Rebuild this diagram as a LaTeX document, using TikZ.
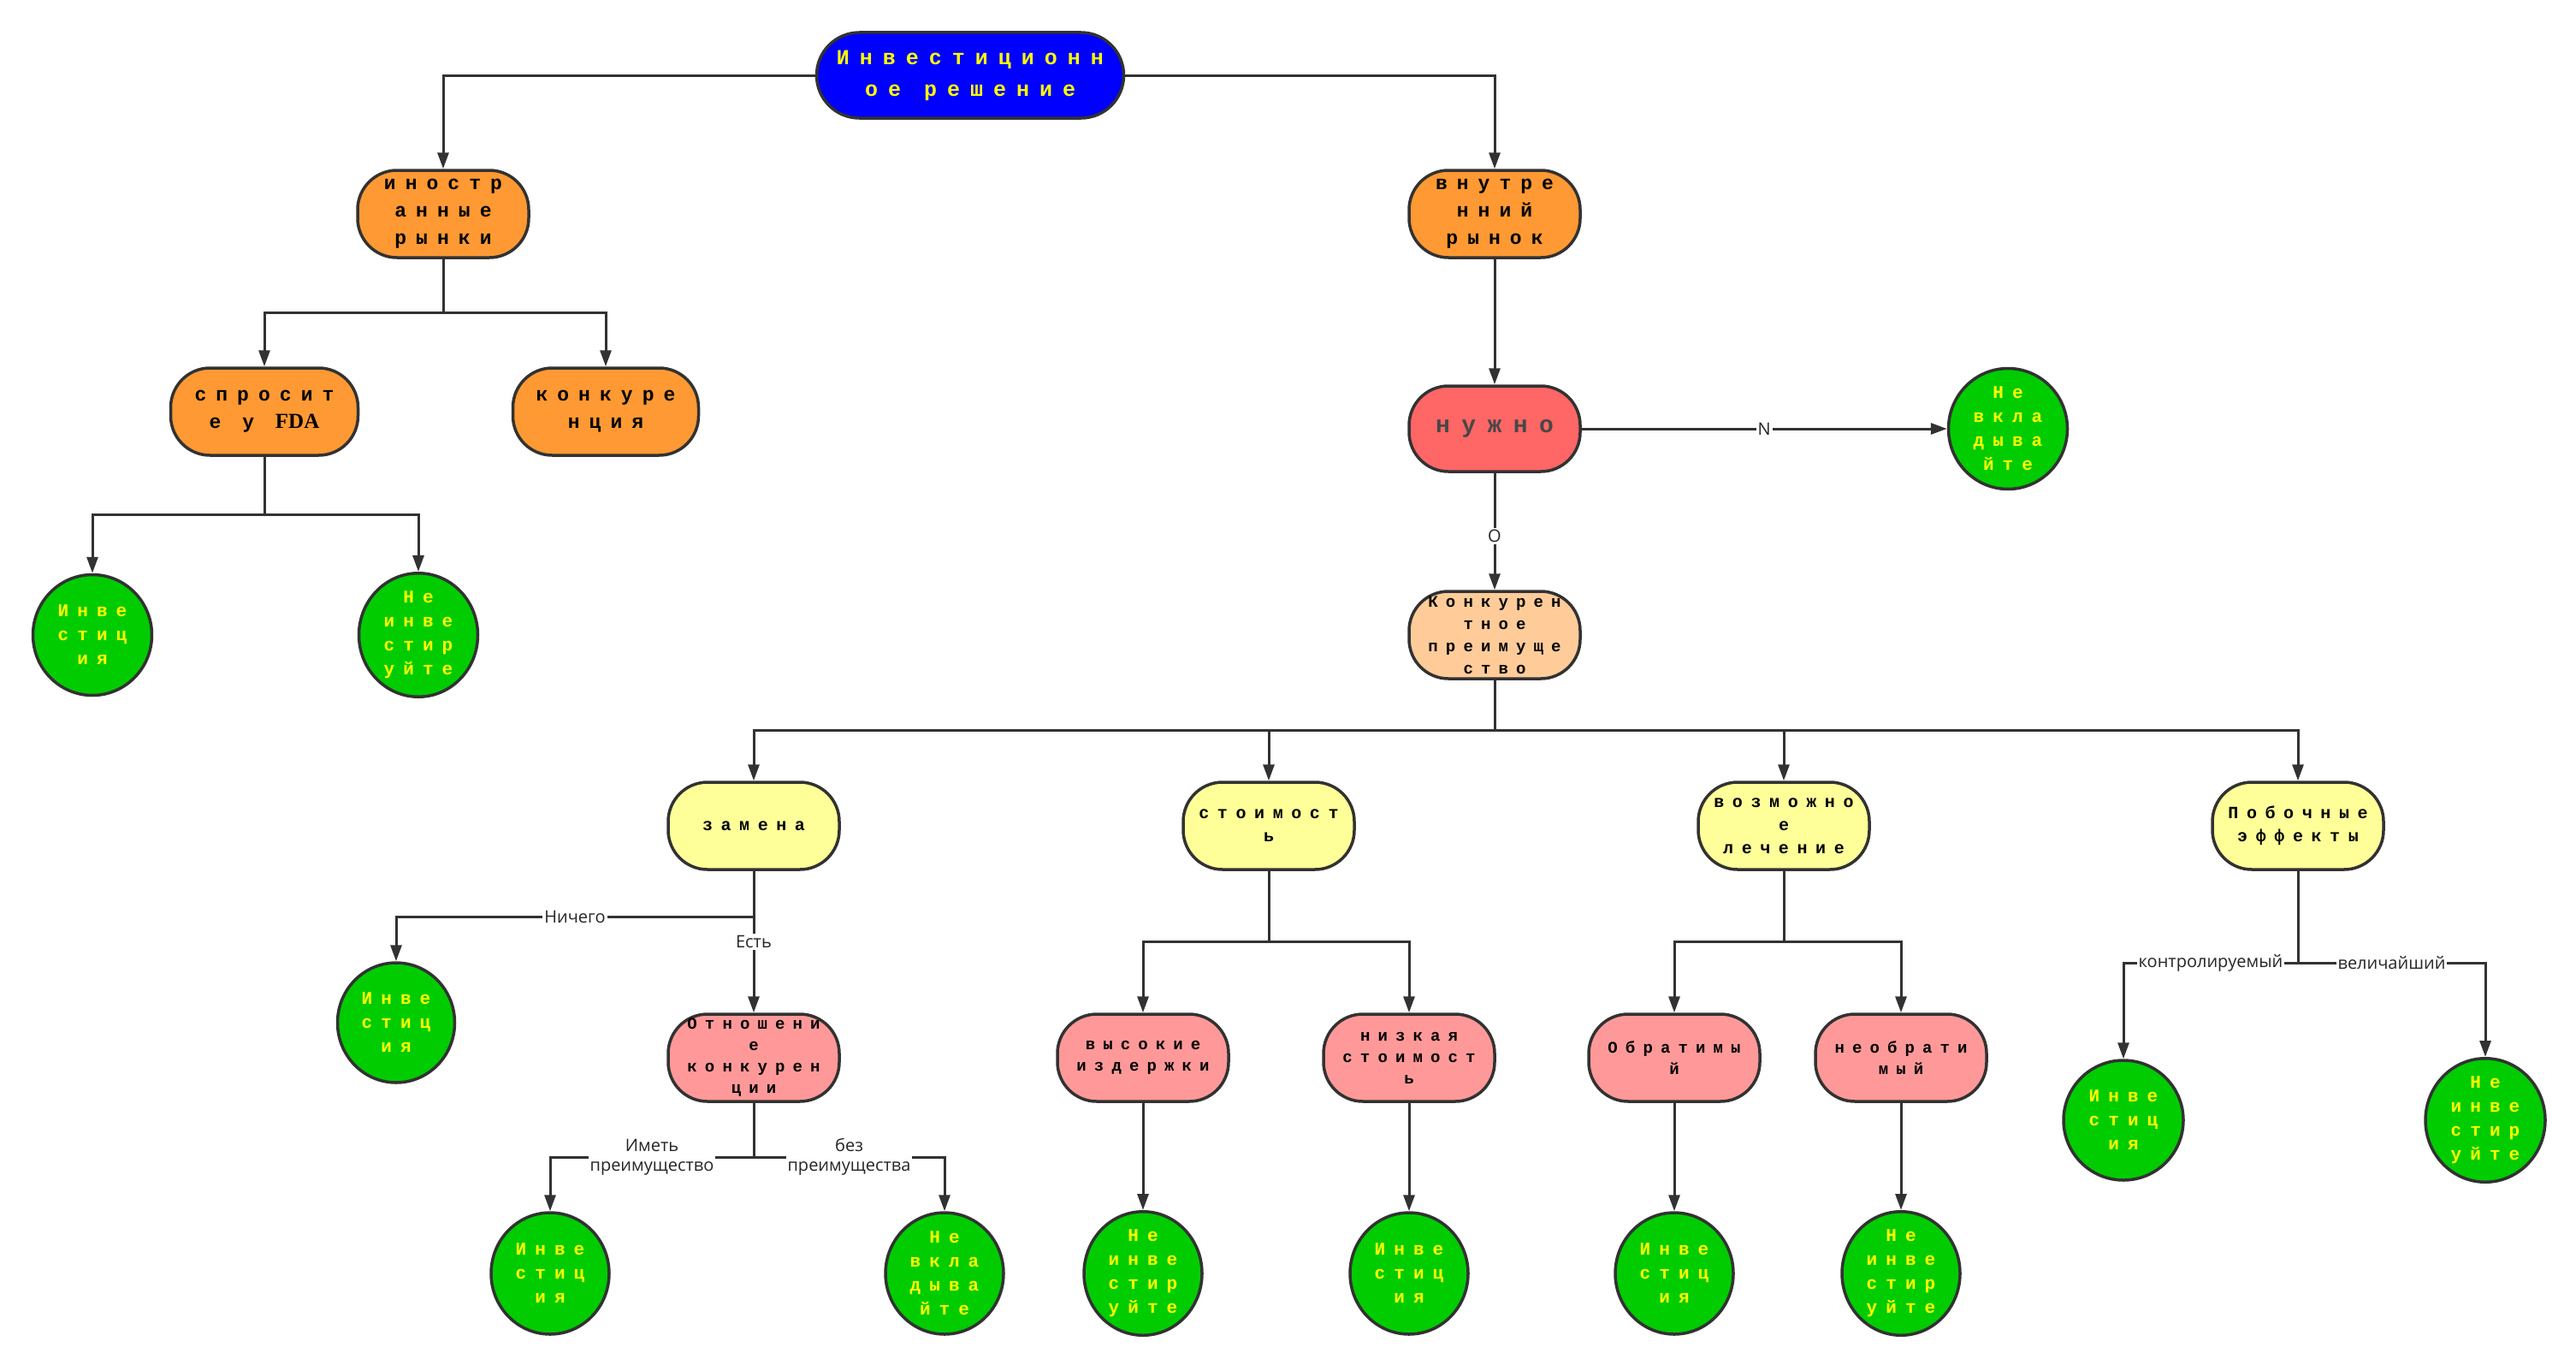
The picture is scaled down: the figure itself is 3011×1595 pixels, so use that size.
\documentclass[tikz,border=0pt]{standalone}
\usepackage{fontspec}
\setmainfont{Liberation Serif}
\newfontfamily\boxfont[LetterSpace=48]{Liberation Mono}
\newfontfamily\lblfont{Open Sans}
\newfontfamily\latinfont{Liberation Serif}
\usetikzlibrary{shapes.geometric,arrows.meta}

\definecolor{linec}{HTML}{323232}
\definecolor{cblue}{HTML}{0000FF}
\definecolor{corange}{HTML}{FF9933}
\definecolor{cred}{HTML}{FF6666}
\definecolor{cpeach}{HTML}{FFCC99}
\definecolor{cyellow}{HTML}{FFFF99}
\definecolor{cpink}{HTML}{FF9999}
\definecolor{cgreen}{HTML}{00CC00}
\definecolor{ctext}{HTML}{FFFF00}

\tikzset{
  base/.style={draw=linec, line width=3.5pt, inner sep=0pt, align=center},
  pill/.style={base, rectangle, rounded corners=46pt, minimum width=200pt, minimum height=102pt},
  headbox/.style={pill, fill=cblue, minimum width=359pt, minimum height=100pt, rounded corners=50pt,
    text=ctext, font=\boxfont\bfseries\fontsize{25}{37}\selectfont},
  marketbox/.style={pill, fill=corange, font=\boxfont\bfseries\fontsize{23}{32}\selectfont},
  needbox/.style={pill, fill=cred, minimum height=100pt, text=black!72,
    font=\boxfont\bfseries\fontsize{28}{34}\selectfont},
  advbox/.style={pill, fill=cpeach, font=\boxfont\bfseries\fontsize{19}{26}\selectfont},
  factorbox/.style={pill, fill=cyellow, font=\boxfont\bfseries\fontsize{20}{27}\selectfont},
  casebox/.style={pill, fill=cpink, font=\boxfont\bfseries\fontsize{19}{25}\selectfont},
  verdict/.style={base, ellipse, fill=cgreen, minimum width=139pt, minimum height=141pt,
    text=ctext, font=\boxfont\bfseries\fontsize{21}{28}\selectfont},
  conn/.style={draw=linec, line width=3pt, -{Triangle[length=19pt,width=13pt]}},
  wire/.style={draw=linec, line width=3pt},
  lbl/.style={fill=white, inner sep=2pt, text=black!85, align=center,
    font=\lblfont\fontsize{20}{23}\selectfont},
}

\begin{document}
\begin{tikzpicture}[x=1pt,y=-1pt]
\useasboundingbox (0,0) rectangle (3011,1595);

% decision root and markets
\node[headbox] (root) at (1134,88) {Инвестиционн\\ое решение};
\node[marketbox] (foreign) at (518,250) {иностр\\анные\\рынки};
\node[marketbox] (home) at (1747,250) {внутре\\нний\\рынок};

% foreign market branch
\node[marketbox, minimum width=219pt] (fda) at (309,481) {спросит\\е у {\latinfont\bfseries\fontsize{25}{32}\selectfont FDA}};
\node[marketbox, minimum width=217pt] (rival) at (708,481) {конкуре\\нция};
\node[verdict] (invA) at (108,742) {Инве\\стиц\\ия};
\node[verdict] (noinvA) at (489,742) {Не\\инве\\стир\\уйте};

% home market branch
\node[needbox] (need) at (1747,501) {нужно};
\node[verdict] (skipA) at (2347,501) {Не\\вкла\\дыва\\йте};
\node[advbox] (adv) at (1747,742) {Конкурен\\тное\\преимуще\\ство};

% factors
\node[factorbox] (subst) at (881,965) {замена};
\node[factorbox] (cost) at (1483,965) {стоимост\\ь};
\node[factorbox] (cure) at (2085,965) {возможно\\е\\лечение};
\node[factorbox] (side) at (2686,965) {Побочные\\эффекты};

% substitution branch
\node[verdict, minimum width=137pt, minimum height=140pt] (invB) at (463,1195) {Инве\\стиц\\ия};
\node[casebox] (rel) at (881,1236) {Отношени\\е\\конкурен\\ции};
\node[verdict, minimum width=138pt, minimum height=142pt] (invC) at (643,1488) {Инве\\стиц\\ия};
\node[verdict, minimum width=138pt, minimum height=142pt] (skipB) at (1104,1488) {Не\\вкла\\дыва\\йте};

% cost branch
\node[casebox] (high) at (1336,1236) {высокие\\издержки};
\node[casebox] (low) at (1647,1236) {низкая\\стоимост\\ь};
\node[verdict, minimum width=138pt, minimum height=142pt] (noinvB) at (1336,1488) {Не\\инве\\стир\\уйте};
\node[verdict, minimum width=138pt, minimum height=142pt] (invD) at (1647,1488) {Инве\\стиц\\ия};

% cure branch
\node[casebox] (rev) at (1957,1236) {Обратимы\\й};
\node[casebox] (irr) at (2222,1236) {необрати\\мый};
\node[verdict, minimum width=138pt, minimum height=142pt] (invE) at (1957,1488) {Инве\\стиц\\ия};
\node[verdict, minimum width=138pt, minimum height=142pt] (noinvC) at (2222,1488) {Не\\инве\\стир\\уйте};

% side effects branch
\node[verdict, minimum width=140pt, minimum height=140pt] (invF) at (2482,1309) {Инве\\стиц\\ия};
\node[verdict, minimum width=140pt, minimum height=140pt] (noinvD) at (2905,1309) {Не\\инве\\стир\\уйте};

% junction points
\coordinate (jF) at (518,365);
\coordinate (jFDA) at (309,601);
\coordinate (jAdv) at (1747,853);
\coordinate (jSub) at (881,1071);
\coordinate (jRel) at (881,1352);
\coordinate (jCost) at (1483,1100);
\coordinate (jCure) at (2085,1100);
\coordinate (jSide) at (2686,1125);

% connectors
\draw[conn] (root.west) -| (foreign.north);
\draw[conn] (root.east) -| (home.north);

\draw[wire] (foreign.south) -- (jF);
\draw[conn] (jF) -| (fda.north);
\draw[conn] (jF) -| (rival.north);
\draw[wire] (fda.south) -- (jFDA);
\draw[conn] (jFDA) -| (invA.north);
\draw[conn] (jFDA) -| (noinvA.north);

\draw[conn] (home) -- (need);
\draw[conn] (need.east) -- node[lbl]{N} (skipA.west);
\draw[conn] (need) -- node[lbl, pos=0.54]{O} (adv);

\draw[wire] (adv.south) -- (jAdv);
\draw[conn] (jAdv) -| (subst.north);
\draw[conn] (jAdv) -| (cost.north);
\draw[conn] (jAdv) -| (cure.north);
\draw[conn] (jAdv) -| (side.north);

\draw[conn] (subst.south) -- node[lbl]{Есть} (rel.north);
\draw[conn] (jSub) -| node[lbl, pos=0.25]{Ничего} (invB.north);
\draw[wire] (rel.south) -- (jRel);
\draw[conn] (jRel) -| node[lbl, pos=0.25]{Иметь\\преимущество} (invC.north);
\draw[conn] (jRel) -| node[lbl, pos=0.25]{без\\преимущества} (skipB.north);

\draw[wire] (cost.south) -- (jCost);
\draw[conn] (jCost) -| (high.north);
\draw[conn] (jCost) -| (low.north);
\draw[conn] (high) -- (noinvB);
\draw[conn] (low) -- (invD);

\draw[wire] (cure.south) -- (jCure);
\draw[conn] (jCure) -| (rev.north);
\draw[conn] (jCure) -| (irr.north);
\draw[conn] (rev) -- (invE);
\draw[conn] (irr) -- (noinvC);

\draw[wire] (side.south) -- (jSide);
\draw[conn] (jSide) -| node[lbl, pos=0.25]{контролируемый} (invF.north);
\draw[conn] (jSide) -| node[lbl, pos=0.25]{величайший} (noinvD.north);
\end{tikzpicture}
\end{document}
